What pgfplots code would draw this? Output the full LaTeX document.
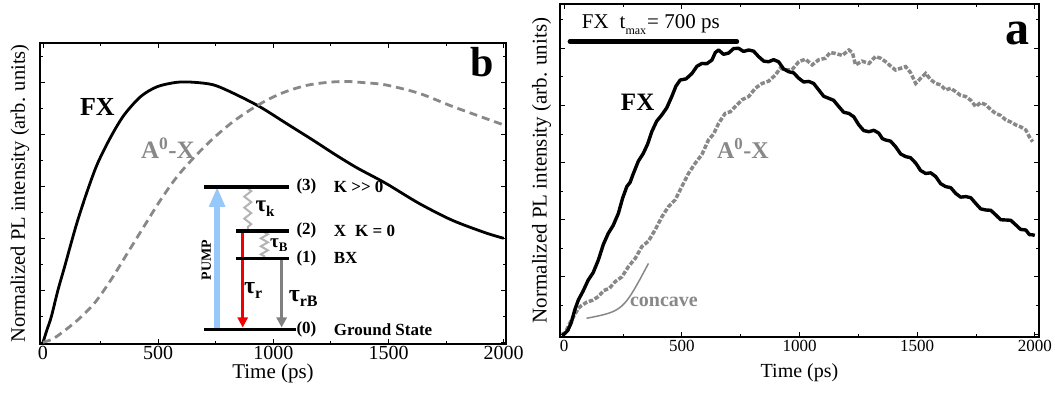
\documentclass[border=0pt]{standalone}
\usepackage{fontspec}
\setmainfont{Liberation Serif}
\usepackage{pgfplots}
\pgfplotsset{compat=1.18}
\usetikzlibrary{arrows.meta,decorations.pathmorphing}
\definecolor{agray}{RGB}{136,136,136}
\definecolor{pumpblue}{RGB}{150,200,250}
\definecolor{wavegray}{RGB}{180,180,180}
\definecolor{rbgray}{RGB}{128,128,128}
\definecolor{pred}{RGB}{240,0,0}
\pgfplotsset{
  panel/.style={
    scale only axis,
    anchor=south west,
    clip=false,
    axis line style={line width=1.2pt},
    tick style={black, line width=0.9pt},
    major tick length=5pt, minor tick length=3pt,
    tick align=inside,
    xtick={0,500,1000,1500,2000},
    minor xtick={250,750,1250,1750},
    ytick={0,0.2,0.4,0.6,0.8,1.0},
    minor ytick={0.1,0.3,0.5,0.7,0.9,1.1},
    yticklabels={},
    /pgf/number format/assume math mode=true,
    /pgf/number format/set thousands separator={},
  }
}
\begin{document}
\begin{tikzpicture}
\useasboundingbox (0,0) rectangle (1055pt,392pt);
% ---------------- left panel (b) ----------------
\begin{axis}[panel, at={(40pt,48pt)}, width=466pt, height=301pt,
  xmin=-13, xmax=2010, ymin=-0.0065, ymax=1.151,
  xticklabel style={font=\fontsize{20}{20}\selectfont, inner sep=1.5pt},
  xlabel={Time (ps)}, ylabel={Normalized PL intensity (arb. units)},
  xlabel style={font=\fontsize{21}{21}\selectfont, at={(axis description cs:0.5,-0.0963)}, anchor=center},
  ylabel style={font=\fontsize{20.5}{20.5}\selectfont, at={(axis description cs:-0.0429,0.5)}, anchor=center},
]
\addplot[black, line width=2.8pt, smooth, tension=0.5] coordinates {
(0,0) (18,0.05) (36,0.098) (65,0.201) (94,0.291) (122,0.381) (151,0.47) (194,0.586)
(237,0.688) (295,0.791) (352,0.874) (424,0.945) (496,0.983) (582,1.0) (654,1.0)
(740,0.99) (826,0.958) (941,0.906) (1056,0.842) (1171,0.778) (1272,0.72) (1365,0.67)
(1487,0.612) (1631,0.535) (1775,0.47) (1918,0.422) (2000,0.40)};
\addplot[agray, line width=2.8pt, dash pattern=on 8pt off 5pt, smooth, tension=0.5] coordinates {
(0,0) (40,0.012) (79,0.035) (151,0.086) (223,0.15) (295,0.24) (366,0.342) (438,0.445)
(510,0.547) (582,0.637) (660,0.715) (740,0.785) (820,0.845) (900,0.894) (980,0.935)
(1060,0.966) (1150,0.989) (1240,1.0) (1320,1.003) (1400,0.998) (1487,0.99) (1631,0.958)
(1775,0.908) (1918,0.862) (2000,0.836)};
% labels
\node[font=\bfseries\fontsize{26}{26}\selectfont] at (axis cs:236,0.906) {FX};
\node[agray, font=\bfseries\fontsize{25}{25}\selectfont] at (axis cs:542,0.747) {A\textsuperscript{0}-X};
\node[font=\bfseries\fontsize{42}{42}\selectfont] at (axis cs:1908,1.076) {b};
% level diagram
\draw[pumpblue, line width=6pt, -{Triangle[width=15pt,length=20pt]}] (axis cs:756,0.056) -- (axis cs:756,0.598);
\draw[pred, line width=3.5pt, -{Triangle[width=10pt,length=10pt]}] (axis cs:867,0.429) -- (axis cs:867,0.057);
\draw[rbgray, line width=3.5pt, -{Triangle[width=10pt,length=10pt]}] (axis cs:1036,0.323) -- (axis cs:1036,0.057);
\draw[wavegray, line width=2pt, decorate, decoration={zigzag, amplitude=3.5pt, segment length=11pt}] (axis cs:889,0.592) -- (axis cs:889,0.436);
\draw[wavegray, line width=2pt, decorate, decoration={zigzag, amplitude=3.5pt, segment length=8pt}] (axis cs:961,0.423) -- (axis cs:961,0.329);
\draw[line width=3.5pt] (axis cs:701,0.598) -- (axis cs:1069,0.598);
\draw[line width=3.5pt] (axis cs:838,0.429) -- (axis cs:1069,0.429);
\draw[line width=3.5pt] (axis cs:838,0.323) -- (axis cs:1069,0.323);
\draw[line width=3.5pt] (axis cs:701,0.05) -- (axis cs:1098,0.05);
\begin{scope}[every node/.style={anchor=west, inner sep=0pt, font=\bfseries\fontsize{17}{17}\selectfont}]
\node at (axis cs:1100,0.598) {(3)};
\node at (axis cs:1100,0.429) {(2)};
\node at (axis cs:1100,0.323) {(1)};
\node at (axis cs:1100,0.05) {(0)};
\node at (axis cs:1262,0.598) {K {>}{>} 0};
\node at (axis cs:1262,0.429) {X\hspace{9pt}K = 0};
\node at (axis cs:1262,0.323) {BX};
\node at (axis cs:1262,0.05) {Ground State};
\end{scope}
\node[rotate=90, inner sep=0pt, font=\bfseries\fontsize{14}{14}\selectfont] at (axis cs:709,0.317) {PUMP};
\node[anchor=west, inner sep=0pt, font=\bfseries\fontsize{23}{23}\selectfont] at (axis cs:922,0.512) {τ\raisebox{-5pt}{\fontsize{15}{15}\selectfont k}};
\node[anchor=west, inner sep=0pt, font=\bfseries\fontsize{19}{19}\selectfont] at (axis cs:985,0.375) {τ\raisebox{-4pt}{\fontsize{13}{13}\selectfont B}};
\node[anchor=west, inner sep=0pt, font=\bfseries\fontsize{24}{24}\selectfont] at (axis cs:872,0.198) {τ\raisebox{-5pt}{\fontsize{16}{16}\selectfont r}};
\node[anchor=west, inner sep=0pt, font=\bfseries\fontsize{24}{24}\selectfont] at (axis cs:1066,0.17) {τ\raisebox{-5pt}{\fontsize{16}{16}\selectfont rB}};
\end{axis}
% ---------------- right panel (a) ----------------
\begin{axis}[panel, at={(560pt,55pt)}, width=479pt, height=333pt,
  xmin=-18, xmax=2018, ymin=-0.0105, ymax=1.155,
  xticklabel style={font=\fontsize{17}{17}\selectfont},
  xlabel={Time (ps)}, ylabel={Normalized PL intensity (arb. units)},
  xlabel style={font=\fontsize{20}{20}\selectfont, at={(axis description cs:0.5,-0.108)}, anchor=center},
  ylabel style={font=\fontsize{21}{21}\selectfont, at={(axis description cs:-0.0382,0.5)}, anchor=center},
]
\addplot[agray, line width=3.5pt, dash pattern=on 4.5pt off 1.8pt] coordinates {
(-10,0.0) (3,0.003) (25,0.04) (46,0.07) (60,0.09) (74,0.1) (97,0.112) (120,0.118)
(145,0.131) (168,0.152) (192,0.16) (216,0.183) (245,0.2) (273,0.236) (302,0.265)
(330,0.306) (358,0.325) (386,0.364) (415,0.41) (443,0.446) (472,0.47) (500,0.516)
(528,0.562) (557,0.598) (585,0.628) (613,0.679) (635,0.7) (656,0.737) (684,0.772)
(706,0.778) (727,0.796) (756,0.82) (784,0.831) (812,0.86) (841,0.877) (869,0.885)
(897,0.906) (918,0.93) (940,0.924) (968,0.925) (997,0.953) (1025,0.962) (1054,0.942)
(1082,0.96) (1110,0.965) (1130,0.985) (1153,0.982) (1182,0.975) (1210,0.994)
(1225,0.985) (1238,0.942) (1266,0.955) (1295,0.947) (1323,0.971) (1345,0.965)
(1366,0.953) (1387,0.938) (1408,0.924) (1430,0.93) (1451,0.936) (1472,0.915)
(1494,0.877) (1515,0.895) (1536,0.912) (1558,0.89) (1579,0.877) (1600,0.872)
(1621,0.854) (1643,0.86) (1664,0.848) (1685,0.835) (1707,0.831) (1728,0.818)
(1749,0.796) (1770,0.81) (1792,0.802) (1813,0.785) (1834,0.772) (1855,0.765)
(1877,0.749) (1898,0.742) (1919,0.732) (1940,0.725) (1962,0.714) (1977,0.69) (1991,0.673)};
\addplot[black, line width=3.4pt, line join=round] coordinates {
(-10,-0.005) (0,0.0) (15,0.012) (30,0.04) (45,0.085) (60,0.119) (80,0.15) (102,0.189)
(123,0.215) (145,0.259) (166,0.313) (187,0.352) (208,0.38) (230,0.422) (248,0.475)
(266,0.516) (280,0.531) (294,0.562) (315,0.605) (336,0.632) (354,0.664) (372,0.708)
(393,0.745) (415,0.767) (436,0.792) (457,0.831) (475,0.868) (493,0.889) (518,0.893)
(543,0.912) (564,0.937) (585,0.947) (606,0.946) (628,0.959) (642,0.985) (656,0.994)
(677,0.979) (698,0.983) (720,0.999) (741,1.0) (762,0.989) (784,0.994) (805,0.99)
(826,0.971) (848,0.955) (869,0.953) (890,0.96) (911,0.953) (932,0.928) (954,0.918)
(975,0.914) (997,0.895) (1018,0.882) (1039,0.884) (1060,0.877) (1082,0.854)
(1103,0.832) (1124,0.825) (1145,0.818) (1167,0.796) (1188,0.776) (1210,0.772)
(1231,0.76) (1252,0.732) (1273,0.712) (1295,0.708) (1316,0.713) (1337,0.703)
(1352,0.684) (1366,0.679) (1387,0.675) (1408,0.656) (1430,0.63) (1451,0.621)
(1472,0.617) (1494,0.598) (1515,0.572) (1536,0.562) (1558,0.564) (1579,0.551)
(1600,0.526) (1621,0.516) (1643,0.512) (1664,0.492) (1685,0.479) (1707,0.481)
(1728,0.477) (1749,0.457) (1770,0.438) (1792,0.434) (1813,0.433) (1834,0.417)
(1855,0.4) (1877,0.399) (1898,0.398) (1919,0.382) (1940,0.366) (1962,0.364)
(1977,0.348) (1991,0.347) (2000,0.345)};
\node[font=\bfseries\fontsize{25}{25}\selectfont] at (axis cs:312,0.81) {FX};
\node[agray, font=\bfseries\fontsize{24}{24}\selectfont] at (axis cs:759,0.651) {A\textsuperscript{0}-X};
\node[agray, font=\bfseries\fontsize{20}{20}\selectfont] at (axis cs:424,0.113) {concave};
\draw[agray, line width=1.5pt] (axis cs:95,0.055) .. controls (axis cs:250,0.08) .. (axis cs:358,0.247);
\node[font=\bfseries\fontsize{48}{48}\selectfont] at (axis cs:1927,1.052) {a};
\node[anchor=base west, inner sep=0pt, font=\fontsize{21}{21}\selectfont] at (axis cs:74,1.07)
  {FX\hspace{11pt}t\raisebox{-6pt}{\fontsize{12}{12}\selectfont max}\hspace{1pt}= 700 ps};
\draw[line width=4.5pt, line cap=round] (axis cs:24,1.023) -- (axis cs:734,1.023);
\end{axis}
\end{tikzpicture}
\end{document}
